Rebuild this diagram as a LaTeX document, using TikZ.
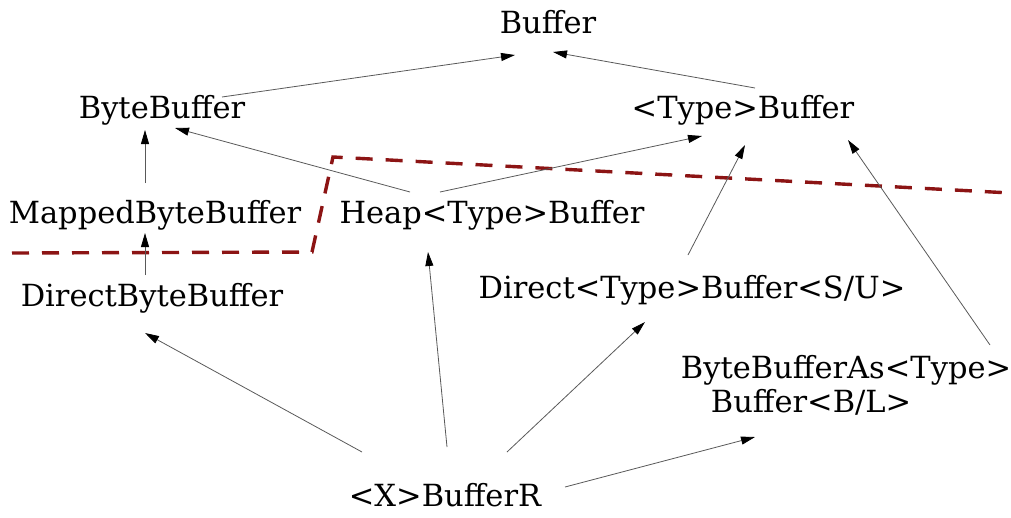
\documentclass[tikz,border=0pt]{standalone}
\usepackage{fontspec}
\setmainfont{DejaVu Serif}
\usetikzlibrary{arrows.meta,calc}
\begin{document}
\begin{tikzpicture}[x=1pt,y=-1pt,
  lbl/.style={inner sep=0pt,font=\fontsize{30.5}{36}\selectfont},
  inh/.style={draw=black!65,line width=0.8pt,-{Triangle[length=14pt,width=8pt,fill=black,color=black]}},
  zone/.style={draw={rgb,255:red,140;green,20;blue,20},line width=3.4pt,dash pattern=on 17pt off 13pt}]
\useasboundingbox (0,0) rectangle (1011,517);
\node[lbl] (buf) at (548,22) {Buffer};
\node[lbl] (bb) at (162,110) {ByteBuffer};
\node[lbl] (tb) at (743,110) {<Type>Buffer};
\node[lbl] (mbb) at (155,215) {MappedByteBuffer};
\node[lbl] (heap) at (492,215) {Heap<Type>Buffer};
\node[lbl] (dbb) at (152,298) {DirectByteBuffer};
\node[lbl] (dtb) at (692,290) {Direct<Type>Buffer<S/U>};
\node[lbl,align=left] (bba) at (846,385) {ByteBufferAs<Type>\\[-2pt]\hspace{30pt}Buffer<B/L>};
\node[lbl] (xr) at (445,495) {<X>BufferR};
% zone boundary
\draw[zone] (12,253) -- (312,252) -- (333,157) -- (1011,193);
% inheritance arrows
\draw[inh] ($(bb)+(60,-13)$) -- ($(buf)+(-33,33)$);
\draw[inh] ($(tb)+(12,-22)$) -- ($(buf)+(5,30)$);
\draw[inh] ($(mbb)+(-10,-32)$) -- ($(bb)+(-17,20)$);
\draw[inh] ($(dbb)+(-7,-23)$) -- ($(mbb)+(-10,18)$);
\draw[inh] ($(heap)+(-82,-23)$) -- ($(bb)+(13,18)$);
\draw[inh] ($(heap)+(-52,-23)$) -- ($(tb)+(-41,26)$);
\draw[inh] ($(dtb)+(-4,-35)$) -- ($(tb)+(2,35)$);
\draw[inh] ($(bba)+(144,-40)$) -- ($(tb)+(105,30)$);
\draw[inh] ($(xr)+(-83,-43)$) -- ($(dbb)+(-7,35)$);
\draw[inh] ($(xr)+(2,-48)$) -- ($(heap)+(-64,37)$);
\draw[inh] ($(xr)+(62,-43)$) -- ($(dtb)+(-47,32)$);
\draw[inh] ($(xr)+(120,-8)$) -- ($(bba)+(-91,52)$);
\end{tikzpicture}
\end{document}
